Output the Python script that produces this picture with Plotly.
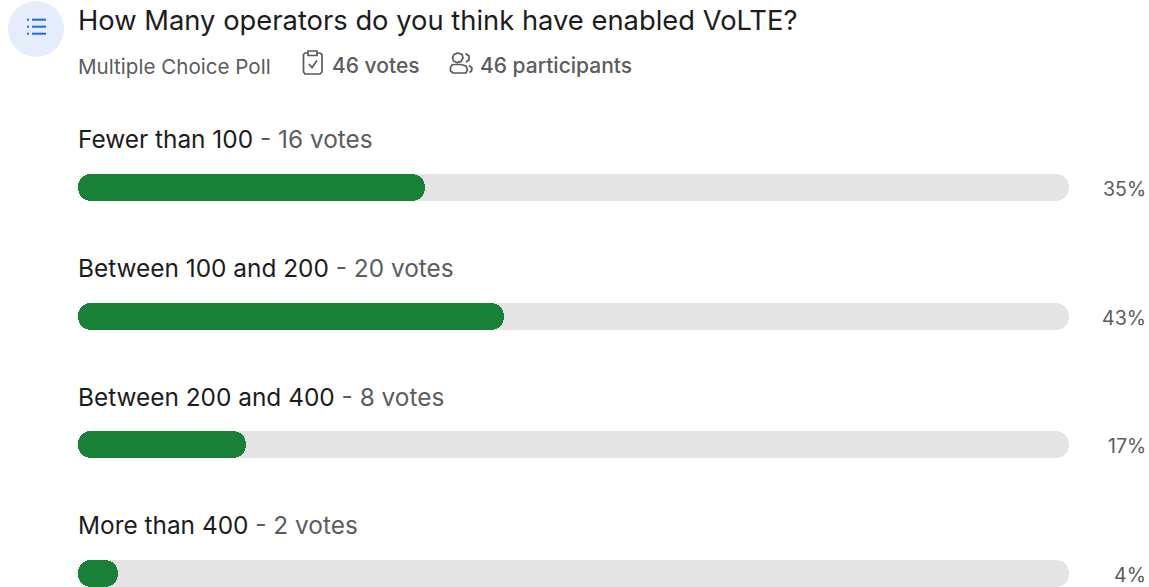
import plotly.graph_objects as go

W, H = 1149, 587
FONT = "Inter"
DARK = "#1c1c1c"
GREY = "#5c5c5c"
GREEN = "#198038"
TRACK = "#e4e4e4"

title = "How Many operators do you think have enabled VoLTE?"
poll_type = "Multiple Choice Poll"
total_votes = "46 votes"
participants = "46 participants"

options = ["Fewer than 100", "Between 100 and 200", "Between 200 and 400", "More than 400"]
votes = [16, 20, 8, 2]
percents = [35, 43, 17, 4]
full_scale = [100, 100, 100, 100]
bar_base = [0, 0, 0, 0]


def px(x):
    return x / W


def py(y):
    return 1 - y / H


def path(points, close=False):
    d = "M" + " L".join(f"{px(x):.5f},{py(y):.5f}" for x, y in points)
    return d + (" Z" if close else "")


fig = go.Figure()
# an explicit base makes plotly round both ends of each bar
fig.add_bar(y=options, x=full_scale, base=bar_base, orientation="h", width=0.21,
            marker=dict(color=TRACK, cornerradius=13.5, line_width=0), hoverinfo="skip")
fig.add_bar(y=options, x=percents, base=bar_base, orientation="h", width=0.21,
            marker=dict(color=GREEN, cornerradius=13.5, line_width=0))

annotations = []


def label(x, y, text, size, color=GREY, anchor="left", yref="paper", yshift=0, weight=400):
    annotations.append(dict(
        x=px(x), xref="paper", xanchor=anchor,
        y=py(y) if yref == "paper" else y, yref=yref, yanchor="middle", yshift=yshift,
        text=text, showarrow=False, align=anchor,
        font=dict(family=FONT, size=size, color=color, weight=weight),
    ))


label(76, 20, title, 27.35, DARK)
label(76, 66.5, poll_type, 20.6)
label(330, 65.5, total_votes, 21, weight=500)
label(478, 65.5, participants, 21, weight=500)

for name, count, pct in zip(options, votes, percents):
    label(76, name, f"<span style='color:{DARK}'>{name}</span> - {count} votes", 24.4, yref="y", yshift=48)
    label(1148, name, f"{pct}%", 19.6, anchor="right", yref="y", yshift=-1.5)

shapes = [
    # poll badge
    dict(type="circle", xref="paper", yref="paper", x0=px(8), x1=px(64), y0=py(57), y1=py(1),
         fillcolor="#e5edfc", line_width=0, layer="below"),
]
for y in (19.7, 26.7, 33.7):
    shapes.append(dict(type="line", xref="paper", yref="paper", x0=px(32), x1=px(46), y0=py(y), y1=py(y),
                       line=dict(color="#1f66f5", width=2)))
    shapes.append(dict(type="line", xref="paper", yref="paper", x0=px(27), x1=px(29), y0=py(y), y1=py(y),
                       line=dict(color="#1f66f5", width=2)))

ICON = dict(color="#5a5a5a", width=1.7)
# clipboard with a check mark
for pts in (
    [(308, 53), (305, 53), (303.5, 54.5), (303.5, 72), (305, 74), (320, 74), (322, 72), (322, 54.5), (320, 53), (317, 53)],
    [(308, 51), (317, 51), (317, 55.5), (308, 55.5)],
    [(309, 64), (312, 67.5), (317, 60.5)],
):
    shapes.append(dict(type="path", xref="paper", yref="paper", path=path(pts, close=len(pts) == 4), line=ICON))
# two people
for pts in (
    [(458, 53), (462, 54.5), (463, 58), (461, 61.5), (457, 62.5), (453.5, 61), (452.5, 57.5), (454, 54.5)],
    [(454, 64.5), (461, 64.5), (466, 66), (467.5, 70), (466, 73), (453, 73), (450.5, 71), (450.5, 67), (452, 65)],
):
    shapes.append(dict(type="path", xref="paper", yref="paper", path=path(pts, close=True), line=ICON))
for pts in (
    [(465.5, 53.5), (469, 56), (469, 60), (466, 62)],
    [(469, 65.5), (472, 68), (471.5, 71), (469.5, 72.5)],
):
    shapes.append(dict(type="path", xref="paper", yref="paper", path=path(pts), line=ICON))

fig.update_layout(
    width=W, height=H, autosize=False,
    margin=dict(l=0, r=0, t=0, b=0),
    paper_bgcolor="white", plot_bgcolor="white",
    barmode="overlay", showlegend=False, bargap=0,
    xaxis=dict(domain=[px(78), px(1069)], range=[0, 100], visible=False, fixedrange=True),
    yaxis=dict(domain=[0, 1], range=[3.105, -1.457], visible=False, fixedrange=True,
               type="category", categoryorder="array", categoryarray=options),
    annotations=annotations, shapes=shapes,
)

fig.write_html("out.html")
